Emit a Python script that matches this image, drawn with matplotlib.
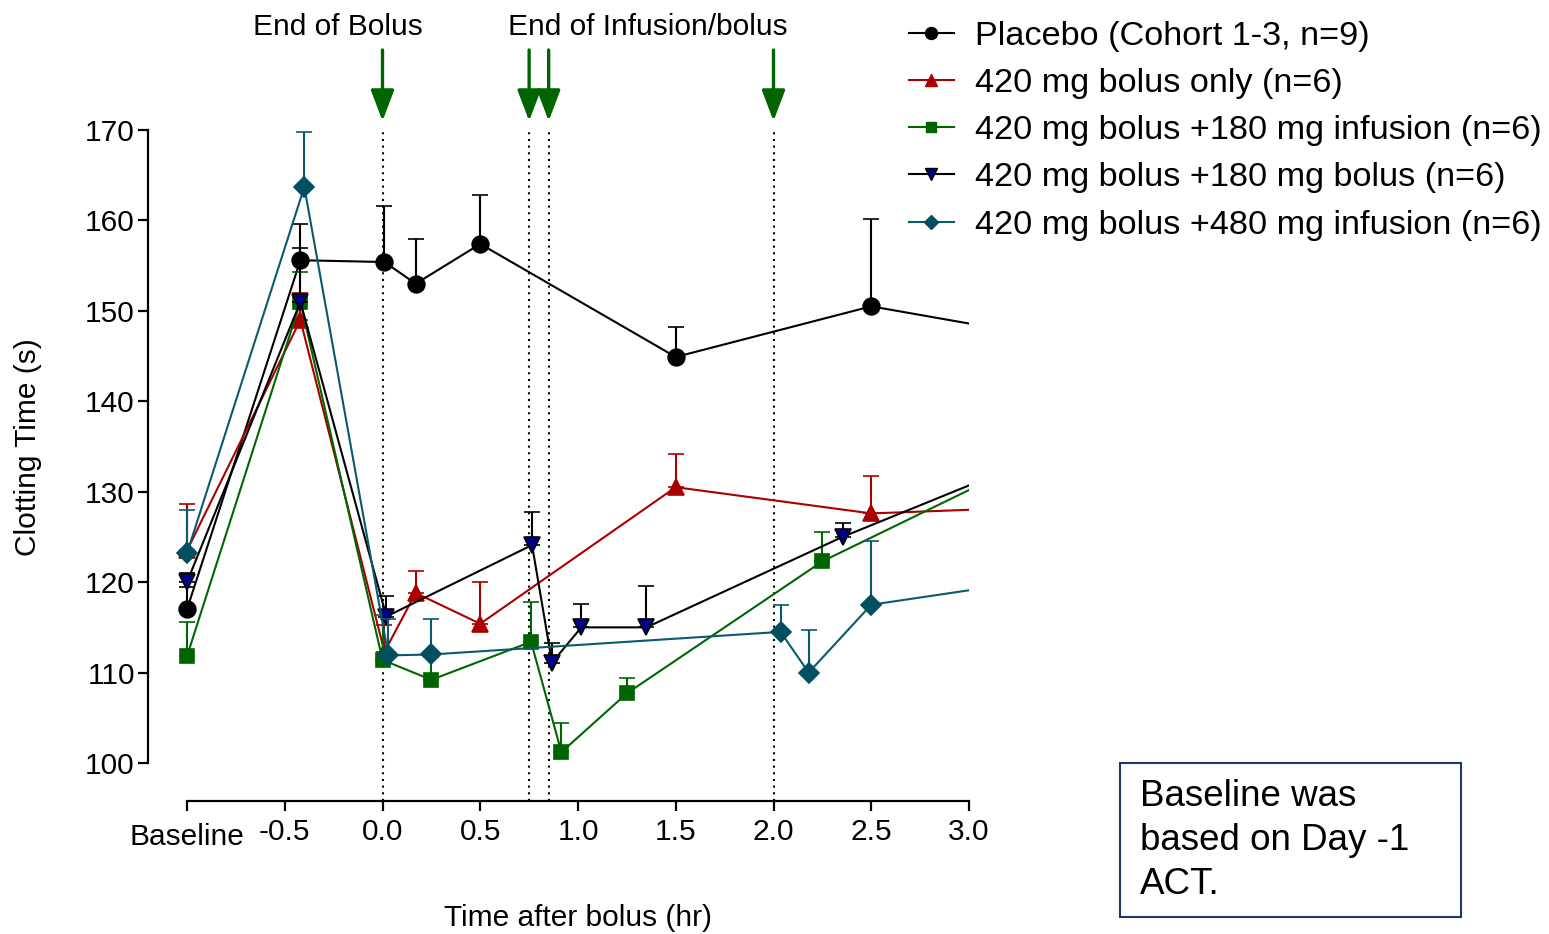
import matplotlib
matplotlib.use("Agg")
import matplotlib.pyplot as plt
from matplotlib.lines import Line2D
from matplotlib.patches import Rectangle
from matplotlib.transforms import ScaledTranslation
import numpy as np

plt.rcParams['font.family'] = ['Liberation Sans', 'DejaVu Sans']

# ---------------- data ----------------
xtick_vals = [-1.0, -0.5, 0.0, 0.5, 1.0, 1.5, 2.0, 2.5, 3.0]
xtick_labels = ['Baseline', '-0.5', '0.0', '0.5', '1.0', '1.5', '2.0', '2.5', '3.0']
ytick_vals = [100, 110, 120, 130, 140, 150, 160, 170]

event_times = [0.0, 0.75, 0.85, 2.0]

series_labels = ['Placebo (Cohort 1-3, n=9)',
                 '420 mg bolus only (n=6)',
                 '420 mg bolus +180 mg infusion (n=6)',
                 '420 mg bolus +180 mg bolus (n=6)',
                 '420 mg bolus +480 mg infusion (n=6)']

placebo_x = [-1.0, -0.42, 0.01, 0.17, 0.5, 1.5, 2.5, 4.0]
placebo_y = [117.0, 155.6, 155.4, 153.0, 157.4, 144.9, 150.5, 144.8]
placebo_e = [2.5, 4.0, 6.2, 5.0, 5.4, 3.3, 9.7, 0.0]

bolus_x = [-1.0, -0.42, 0.01, 0.17, 0.5, 1.5, 2.5, 4.0]
bolus_y = [123.5, 149.0, 112.3, 118.8, 115.4, 130.5, 127.6, 128.8]
bolus_e = [5.1, 3.0, 3.0, 2.4, 4.6, 3.7, 4.1, 0.0]

inf180_x = [-1.0, -0.42, 0.0, 0.25, 0.76, 0.915, 1.25, 2.25, 4.0]
inf180_y = [111.8, 151.0, 111.4, 109.2, 113.4, 101.2, 107.7, 122.3, 140.7]
inf180_e = [3.8, 3.3, 5.0, 2.5, 4.4, 3.2, 1.7, 3.2, 0.0]

bol180_x = [-1.0, -0.42, 0.02, 0.765, 0.867, 1.017, 1.35, 2.353, 4.0]
bol180_y = [120.0, 151.0, 116.2, 124.1, 111.1, 115.0, 115.0, 125.0, 139.5]
bol180_e = [1.0, 6.0, 2.3, 3.7, 2.2, 2.6, 4.6, 1.5, 0.0]

inf480_x = [-1.0, -0.40, 0.03, 0.25, 2.036, 2.18, 2.5, 4.0]
inf480_y = [123.2, 163.7, 111.9, 112.0, 114.5, 110.0, 117.5, 122.3]
inf480_e = [4.8, 6.1, 4.0, 3.9, 3.0, 4.7, 7.0, 0.0]

# ---------------- figure ----------------
W, H = 1549, 934
fig = plt.figure(figsize=(W / 100, H / 100), dpi=100)
ax = fig.add_axes([187 / W, (H - 763) / H, 782 / W, 633 / H])
ax.set_xlim(-1.0, 3.0)
ax.set_ylim(100, 170)

clip_rect = Rectangle((-2.0, 90), 5.0, 90, transform=ax.transData)

styles = [
    dict(x=placebo_x, y=placebo_y, e=placebo_e, lc='black', mfc='black', mec='black', m='o', ms=12, ec='black'),
    dict(x=bolus_x, y=bolus_y, e=bolus_e, lc='#AA0000', mfc='#AA0000', mec='#AA0000', m='^', ms=11.5, ec='#AA0000'),
    dict(x=inf180_x, y=inf180_y, e=inf180_e, lc='#006600', mfc='#006400', mec='#006400', m='s', ms=10.5, ec='#006600'),
    dict(x=bol180_x, y=bol180_y, e=bol180_e, lc='black', mfc='#000088', mec='black', m='v', ms=11.5, ec='black'),
    dict(x=inf480_x, y=inf480_y, e=inf480_e, lc='#0A5A6E', mfc='#024F62', mec='#024F62', m='D', ms=10, ec='#0A5A6E'),
]

handles = []
for i, s in enumerate(styles):
    err = np.array(s['e'])
    line, caps, bars = ax.errorbar(s['x'], s['y'], yerr=[np.zeros_like(err), err],
                                   color=s['lc'], ecolor=s['ec'], marker=s['m'],
                                   markersize=s['ms'], markerfacecolor=s['mfc'],
                                   markeredgecolor=s['mec'], markeredgewidth=1.2,
                                   linewidth=1.5, elinewidth=1.5, capsize=5.8,
                                   capthick=1.5, zorder=3 + i)
    for art in [line, *caps, *bars]:
        art.set_clip_on(True)
        art.set_clip_path(clip_rect)
    handles.append(Line2D([], [], color=s['lc'], marker=s['m'], markersize=s['ms'] * 0.72,
                          markerfacecolor=s['mfc'], markeredgecolor=s['mec'],
                          markeredgewidth=1.0, linewidth=1.5))

# dotted event lines
for t in event_times:
    ax.plot([t, t], [-0.06, 1.0], transform=ax.get_xaxis_transform(), color='black',
            linestyle=(0, (1, 2.2)), linewidth=1.5, clip_on=False, zorder=1)

# arrows above the plot
for t in event_times:
    ax.annotate('', xy=(t, H - 121), xytext=(t, H - 50),
                xycoords=('data', 'figure pixels'), textcoords=('data', 'figure pixels'),
                arrowprops=dict(arrowstyle='-|>,head_length=0.95,head_width=0.36',
                                mutation_scale=20, color='#006400', lw=2.4,
                                shrinkA=0, shrinkB=0),
                annotation_clip=False)

fig.text(338 / W, 1 - 27 / H, 'End of Bolus', ha='center', va='center', fontsize=21.5)
fig.text(648 / W, 1 - 27 / H, 'End of Infusion/bolus', ha='center', va='center', fontsize=21.5)

# axes styling (Prism-like offset spines)
for side in ['top', 'right']:
    ax.spines[side].set_visible(False)
ax.spines['left'].set_position(('outward', 39 * 0.72))
ax.spines['bottom'].set_position(('outward', 38 * 0.72))
ax.spines['left'].set_bounds(100, 170)
ax.spines['bottom'].set_bounds(-1.0, 3.0)
for side in ['left', 'bottom']:
    ax.spines[side].set_linewidth(1.6)

ax.set_xticks(xtick_vals)
ax.set_xticklabels(xtick_labels)
ax.set_yticks(ytick_vals)
ax.tick_params(axis='both', direction='out', length=7.5, width=1.6, labelsize=21.5)
ax.tick_params(axis='y', pad=2)
ax.tick_params(axis='x', pad=5)

# the "Baseline" label sits a little lower than the numeric labels
base_lbl = ax.get_xticklabels()[0]
base_lbl.set_transform(base_lbl.get_transform() + ScaledTranslation(0, -5 / 100, fig.dpi_scale_trans))

fig.text(28 / W, 1 - 447 / H, 'Clotting Time (s)', rotation=90, ha='center', va='center', fontsize=21.5)
fig.text(578 / W, 1 - 918 / H, 'Time after bolus (hr)', ha='center', va='center', fontsize=21.5)

# legend
fig.legend(handles, series_labels, loc='upper left', bbox_to_anchor=(909 / W, 1 - 21 / H),
           frameon=False, fontsize=24.7, handlelength=1.3, handletextpad=0.62,
           labelspacing=0.47, borderpad=0, borderaxespad=0)

# note box
fig.patches.append(Rectangle((1120 / W, (H - 917) / H), 341 / W, 154 / H,
                             transform=fig.transFigure, fill=False,
                             edgecolor='#1F3A66', linewidth=1.5))
fig.text(1140 / W, 1 - 797 / H, 'Baseline was', ha='left', va='center', fontsize=26.5)
fig.text(1140 / W, 1 - 841 / H, 'based on Day -1', ha='left', va='center', fontsize=26.5)
fig.text(1140 / W, 1 - 884 / H, 'ACT.', ha='left', va='center', fontsize=26.5)

fig.savefig('out.png', dpi=100)
